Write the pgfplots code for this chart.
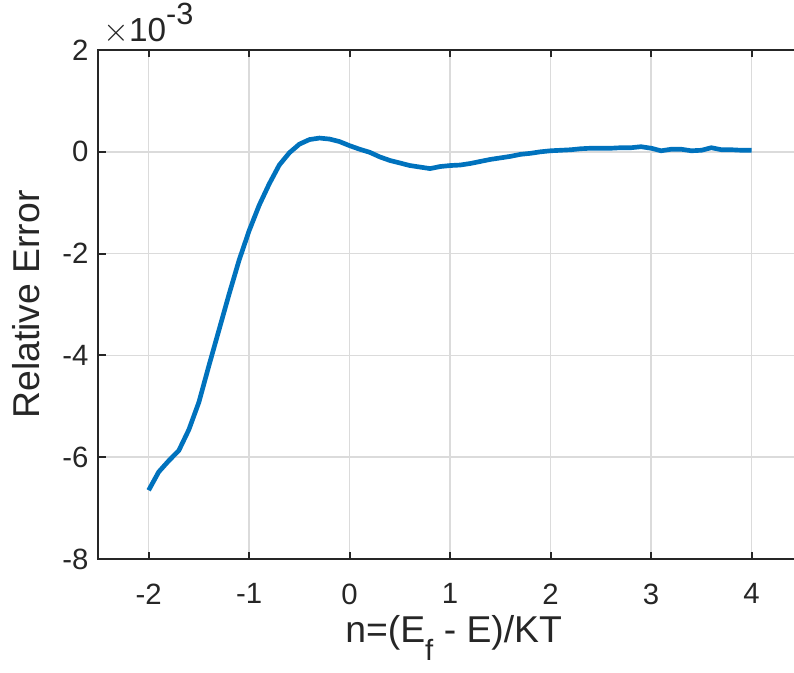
\documentclass[border=0pt]{standalone}
\usepackage{fontspec}
\setmainfont{Liberation Sans}
\usepackage{pgfplots}
\pgfplotsset{compat=1.18}
\definecolor{mblue}{RGB}{0,114,189}
\definecolor{mgrid}{RGB}{219,219,219}
\definecolor{maxis}{RGB}{38,38,38}
\begin{document}
\begin{tikzpicture}
\begin{axis}[
  name=ax,
  scale only axis,
  width=527.6pt, height=381.75pt,
  xmin=-2.5, xmax=4.5, ymin=-8, ymax=2,
  xtick={-2,-1,0,1,2,3,4},
  xticklabels={-2,-1,0,1,2,3,4},
  ytick={-8,-6,-4,-2,0,2},
  yticklabels={-8,-6,-4,-2,0,2},
  tick align=inside,
  major tick length=5.4pt,
  xtick pos=both, ytick pos=both,
  tick style={maxis, line width=1.5pt},
  axis line style={maxis, line width=1.5pt},
  grid=major,
  major grid style={mgrid, line width=1.2pt},
  ticklabel style={font=\fontsize{22}{22}\selectfont, text=maxis},
  xticklabel style={yshift=-15pt},
  yticklabel style={xshift=-4pt},
  xlabel={n=(E\raisebox{-0.46em}{\fontsize{22}{22}\selectfont f} - E)/KT},
  ylabel={Relative Error},
  label style={font=\fontsize{28}{28}\selectfont, text=maxis},
  xlabel style={at={(axis description cs:0.505,0)}, anchor=base, yshift=-63pt},
  ylabel style={at={(axis description cs:0,0.5)}, anchor=base, yshift=44pt},
  clip=false,
]
\addplot[mblue, line width=3.5pt, line join=round] coordinates {
(-2.0,-6.65) (-1.9,-6.29) (-1.8,-6.07) (-1.7,-5.87) (-1.6,-5.46) (-1.5,-4.92)
(-1.4,-4.20) (-1.3,-3.50) (-1.2,-2.80) (-1.1,-2.13) (-1.0,-1.55) (-0.9,-1.05)
(-0.8,-0.63) (-0.7,-0.26) (-0.6,-0.02) (-0.5,0.15) (-0.4,0.24) (-0.3,0.27)
(-0.2,0.25) (-0.1,0.20) (0.0,0.12) (0.1,0.05) (0.2,-0.01) (0.3,-0.10)
(0.4,-0.17) (0.5,-0.22) (0.6,-0.27) (0.7,-0.30) (0.8,-0.33) (0.9,-0.29)
(1.0,-0.27) (1.1,-0.26) (1.2,-0.23) (1.3,-0.19) (1.4,-0.15) (1.5,-0.12)
(1.6,-0.09) (1.7,-0.05) (1.8,-0.03) (1.9,0.00) (2.0,0.02) (2.1,0.03)
(2.2,0.04) (2.3,0.06) (2.4,0.07) (2.5,0.07) (2.6,0.07) (2.7,0.08)
(2.8,0.08) (2.9,0.10) (3.0,0.07) (3.1,0.02) (3.2,0.05) (3.3,0.05)
(3.4,0.02) (3.5,0.03) (3.6,0.08) (3.7,0.04) (3.8,0.04) (3.9,0.03) (4.0,0.03)
};
\end{axis}
\node[anchor=base west, inner sep=0pt, text=maxis, font=\fontsize{25}{25}\selectfont]
  at ([xshift=3.5pt,yshift=6.3pt]ax.north west) {$\times$10\raisebox{0.52em}{\fontsize{23}{23}\selectfont -3}};
\pgfresetboundingbox
\path[use as bounding box] ([xshift=-73.8pt,yshift=-85.5pt]ax.south west) rectangle ([xshift=521.7pt,yshift=419.25pt]ax.south west);
\end{tikzpicture}
\end{document}
